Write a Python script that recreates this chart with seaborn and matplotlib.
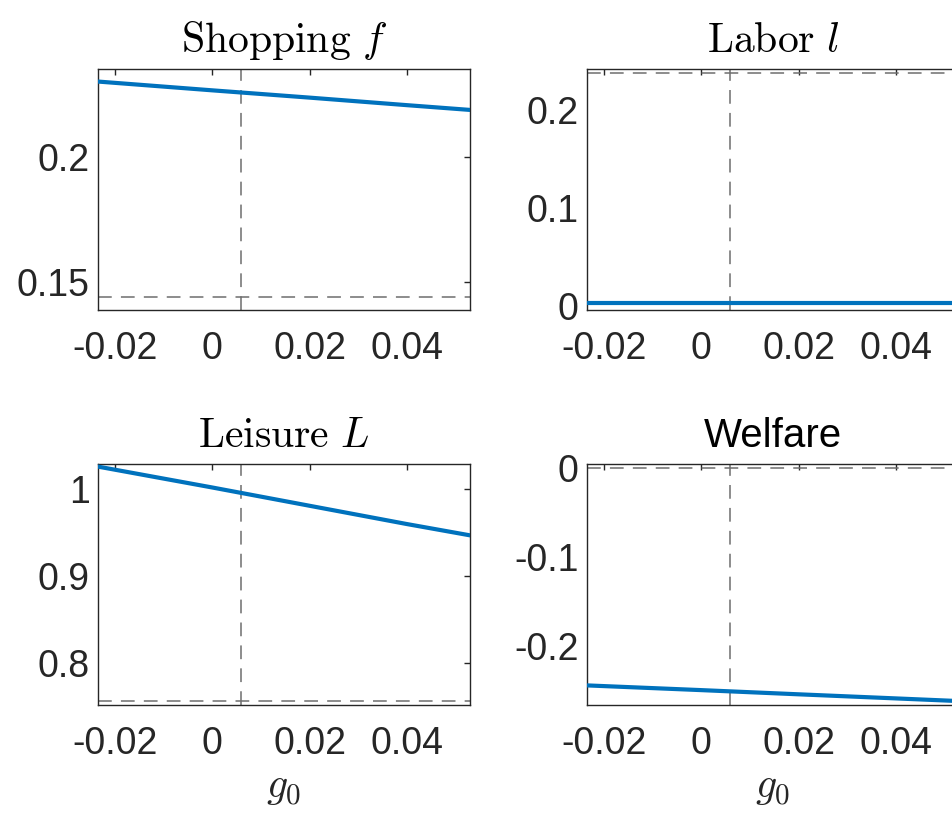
import numpy as np
import pandas as pd
import matplotlib
matplotlib.use("Agg")
import matplotlib.pyplot as plt
import seaborn as sns

# values
g0 = [-0.0235, 0.0, 0.02, 0.04, 0.053]
shopping = [0.2300, 0.2265, 0.2236, 0.2206, 0.2187]
labor = [0.003, 0.003, 0.003, 0.003, 0.003]
leisure = [1.026, 1.002, 0.981, 0.960, 0.947]
welfare = [-0.2440, -0.2493, -0.2540, -0.2586, -0.2616]

# reference levels (dashed)
g0_ref = 0.006
shopping_ref = 0.144
labor_ref = 0.238
leisure_ref = 0.7565
welfare_ref = 0.0

xticks = [-0.02, 0, 0.02, 0.04]
xticklabels = ["-0.02", "0", "0.02", "0.04"]

panels = [
    (r"$\mathrm{Shopping}\ f$", shopping, shopping_ref, (0.139, 0.235), [0.15, 0.2], ["0.15", "0.2"]),
    (r"$\mathrm{Labor}\ l$", labor, labor_ref, (-0.004, 0.242), [0, 0.1, 0.2], ["0", "0.1", "0.2"]),
    (r"$\mathrm{Leisure}\ L$", leisure, leisure_ref, (0.752, 1.029), [0.8, 0.9, 1.0], ["0.8", "0.9", "1"]),
    ("Welfare", welfare, welfare_ref, (-0.266, 0.0045), [-0.2, -0.1, 0], ["-0.2", "-0.1", "0"]),
]

sns.set_style("white")
plt.rcParams["font.family"] = ["Liberation Sans", "DejaVu Sans"]
plt.rcParams["mathtext.fontset"] = "cm"

fig = plt.figure(figsize=(9.52, 8.14), dpi=100)
W, H = 952, 814
# axes boxes in pixels: left, top, right, bottom
boxes = [(98, 69, 470, 310), (587, 69, 959, 310),
         (98, 464, 470, 705), (587, 464, 959, 705)]

blue = "#0072BD"
axcol = "#262626"
dash = "#6e6e6e"

for i, ((title, vals, ref, ylim, yt, ytl), (l, t, r, b)) in enumerate(zip(panels, boxes)):
    ax = fig.add_axes([l / W, 1 - b / H, (r - l) / W, (b - t) / H])
    df = pd.DataFrame({"g0": g0, "y": vals})
    ax.axhline(ref, color=dash, lw=1.1, ls=(0, (9, 6)), zorder=1)
    ax.axvline(g0_ref, color=dash, lw=1.1, ls=(0, (9, 6)), zorder=1)
    sns.lineplot(data=df, x="g0", y="y", ax=ax, color=blue, lw=3.0, zorder=3)
    ax.set_xlim(-0.0235, 0.053)
    ax.set_ylim(*ylim)
    ax.set_xticks(xticks)
    ax.set_xticklabels(xticklabels)
    ax.set_yticks(yt)
    ax.set_yticklabels(ytl)
    ax.tick_params(direction="in", length=4, width=1, colors=axcol,
                   labelsize=27, top=True, right=True)
    ax.tick_params(axis="x", pad=15)
    ax.tick_params(axis="y", pad=6)
    for s in ax.spines.values():
        s.set_color(axcol)
        s.set_linewidth(1.0)
    if title == "Welfare":
        ax.set_title(title, fontsize=29, color="black", pad=12)
    else:
        ax.set_title(title, fontsize=30, color="black", pad=12)
    ax.set_ylabel("")
    if i >= 2:
        ax.set_xlabel(r"$g_0$", fontsize=30, labelpad=4)
    else:
        ax.set_xlabel("")

fig.text(0.5, 1.01, r"$\mathrm{Shopping\ technology\ change\ }g(f)$",
         ha="center", va="bottom", fontsize=26)

fig.savefig("out.png", dpi=100)
